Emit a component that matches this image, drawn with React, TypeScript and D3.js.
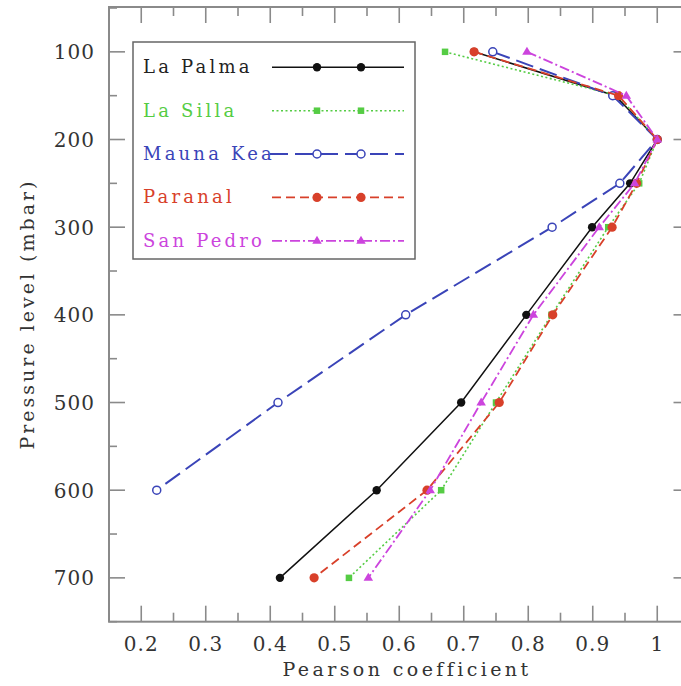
import React from "react";
import * as d3 from "d3";

const pressures = [100, 150, 200, 250, 300, 400, 500, 600, 700];
const laPalma = [0.716, 0.935, 1.0, 0.958, 0.899, 0.797, 0.696, 0.565, 0.415];
const laSilla = [0.671, 0.939, 1.0, 0.972, 0.924, 0.836, 0.75, 0.665, 0.522];
const maunaKea = [0.745, 0.931, 1.0, 0.942, 0.837, 0.61, 0.412, 0.224];
const paranal = [0.716, 0.94, 1.0, 0.968, 0.93, 0.838, 0.755, 0.643, 0.468];
const sanPedro = [0.798, 0.952, 1.0, 0.965, 0.91, 0.808, 0.727, 0.648, 0.552];

const xTicks = [0.2, 0.3, 0.4, 0.5, 0.6, 0.7, 0.8, 0.9, 1];
const xTickLabels = ["0.2", "0.3", "0.4", "0.5", "0.6", "0.7", "0.8", "0.9", "1"];
const yTicks = [100, 200, 300, 400, 500, 600, 700];
const yTickLabels = ["100", "200", "300", "400", "500", "600", "700"];

type Series = {
  name: string;
  values: number[];
  color: string;
  dash: string;
  width: number;
  marker: "dot" | "square" | "open" | "tri";
  size: number;
};

const series: Series[] = [
  { name: "La Palma", values: laPalma, color: "#111111", dash: "", width: 1.5, marker: "dot", size: 4.2 },
  { name: "La Silla", values: laSilla, color: "#55cc44", dash: "2,2.5", width: 1.6, marker: "square", size: 6.5 },
  { name: "Mauna Kea", values: maunaKea, color: "#3a44b8", dash: "18,7", width: 2, marker: "open", size: 4 },
  { name: "Paranal", values: paranal, color: "#d8402a", dash: "9,5", width: 1.8, marker: "dot", size: 4.6 },
  { name: "San Pedro", values: sanPedro, color: "#cc44dd", dash: "10,3,2,3", width: 1.8, marker: "tri", size: 5 },
];

const W = 681;
const H = 686;
const left = 109;
const right = 689.5;
const top = 7;
const bottom = 621.7;

const x = d3.scaleLinear().domain([0.15, 1.05]).range([left, right]);
const y = d3.scaleLinear().domain([50, 750]).range([top + 1, bottom]);

const FONT = "'DejaVu Serif', serif";
const AXIS = "#8a8a8a";
const TEXT = "#333";

function Marker({ s, cx, cy }: { s: Series; cx: number; cy: number }) {
  const r = s.size;
  if (s.marker === "dot") return <circle cx={cx} cy={cy} r={r} fill={s.color} />;
  if (s.marker === "open")
    return <circle cx={cx} cy={cy} r={r} fill="white" stroke={s.color} strokeWidth={1.5} />;
  if (s.marker === "square")
    return <rect x={cx - r / 2} y={cy - r / 2} width={r} height={r} fill={s.color} />;
  const p = d3.path();
  p.moveTo(cx, cy - r);
  p.lineTo(cx + r * 0.95, cy + r * 0.6);
  p.lineTo(cx - r * 0.95, cy + r * 0.6);
  p.closePath();
  return <path d={p.toString()} fill={s.color} />;
}

export default function App() {
  const line = d3
    .line<[number, number]>()
    .x((d) => x(d[0]))
    .y((d) => y(d[1]));

  const xMinor = d3.range(0.15, 1.0501, 0.05);
  const yMinor = d3.range(50, 750.01, 50);

  const legendRows = [73.3, 116.7, 160, 203.4, 246.8];

  return (
    <svg
      width={W}
      height={H}
      style={{ position: "absolute", left: 0, top: 0, background: "white" }}
      fontFamily={FONT}
    >
      <rect x={0} y={0} width={W} height={H} fill="white" />
      {/* frame */}
      <rect x={left} y={top} width={right - left} height={bottom - top} fill="none" stroke={AXIS} strokeWidth={2} />
      {xMinor.map((v, i) => {
        const r = Math.round(v * 100);
        const major = r % 10 === 0;
        const len = major ? 16 : 9;
        const px = x(v);
        return (
          <g key={"xt" + i}>
            <line x1={px} x2={px} y1={bottom} y2={bottom - len} stroke={AXIS} strokeWidth={1.6} />
            <line x1={px} x2={px} y1={top} y2={top + len} stroke={AXIS} strokeWidth={1.6} />
          </g>
        );
      })}
      {yMinor.map((v, i) => {
        const major = v % 100 === 0;
        const len = major ? 16 : 8;
        const py = y(v);
        return (
          <g key={"yt" + i}>
            <line x1={left} x2={left + len} y1={py} y2={py} stroke={AXIS} strokeWidth={1.6} />
            <line x1={right} x2={right - len} y1={py} y2={py} stroke={AXIS} strokeWidth={1.6} />
          </g>
        );
      })}
      {xTicks.map((v, i) => (
        <text key={"xl" + i} x={x(v)} y={651} textAnchor="middle" fontSize={20} letterSpacing={1} fill={TEXT}>
          {xTickLabels[i]}
        </text>
      ))}
      {yTicks.map((v, i) => (
        <text key={"yl" + i} x={95} y={y(v) + 7.5} textAnchor="end" fontSize={20} letterSpacing={1} fill={TEXT}>
          {yTickLabels[i]}
        </text>
      ))}
      <text x={407} y={676} textAnchor="middle" fontSize={19} letterSpacing={3.4} fill={TEXT}>
        Pearson coefficient
      </text>
      <text
        transform={`translate(34,314) rotate(-90)`}
        textAnchor="middle"
        fontSize={19}
        letterSpacing={3}
        fill={TEXT}
      >
        Pressure level (mbar)
      </text>

      {/* series */}
      {series.map((s) => {
        const pts: [number, number][] = s.values.map((v, i) => [v, pressures[i]]);
        return (
          <g key={s.name}>
            <path
              d={line(pts) || ""}
              fill="none"
              stroke={s.color}
              strokeWidth={s.width}
              strokeDasharray={s.dash || undefined}
            />
            {pts.map((p, i) => (
              <Marker key={i} s={s} cx={x(p[0])} cy={y(p[1])} />
            ))}
          </g>
        );
      })}

      {/* legend */}
      <rect x={133} y={42} width={282} height={217} fill="white" stroke="#666" strokeWidth={1.5} />
      {series.map((s, i) => {
        const ly = legendRows[i];
        const lineY = ly - 6;
        return (
          <g key={"lg" + s.name}>
            <text x={143} y={ly} fontSize={18} letterSpacing={3.2} fill={s.color === "#111111" ? "#222" : s.color}>
              {s.name}
            </text>
            <line
              x1={s.name === "Mauna Kea" ? 270 : 272}
              x2={404}
              y1={lineY}
              y2={lineY}
              stroke={s.color}
              strokeWidth={s.width}
              strokeDasharray={s.dash || undefined}
            />
            <Marker s={s} cx={317} cy={lineY} />
            <Marker s={s} cx={361} cy={lineY} />
          </g>
        );
      })}
    </svg>
  );
}
